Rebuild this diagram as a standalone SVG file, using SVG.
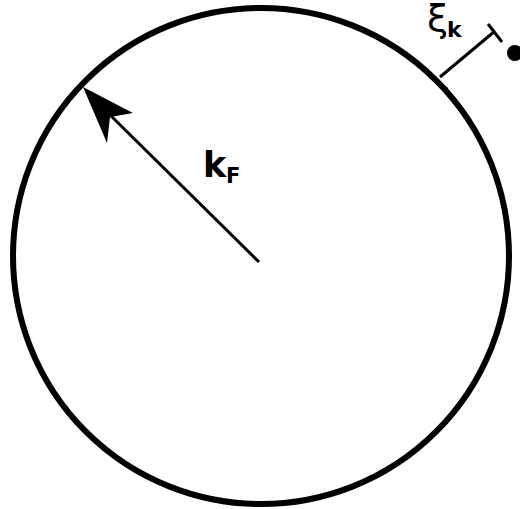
<svg xmlns="http://www.w3.org/2000/svg" width="520" height="509" viewBox="0 0 520 509">
<style>
.ln{stroke:#000;fill:none;stroke-linecap:butt}
.t{font-family:"DejaVu Sans",sans-serif;fill:#000}
</style>
<rect width="520" height="509" fill="#fff"/>
<g id="fermi-sphere">
<circle cx="261" cy="256" r="248" class="ln" stroke-width="6"/>
</g>
<g id="dot"><circle cx="515" cy="53" r="8" fill="#000"/></g>
<g id="connectors">
<line x1="259" y1="262" x2="105" y2="110" class="ln" stroke-width="3"/>
<polygon points="83,87 133,113 110,117 107,143" fill="#000"/>
<line x1="440" y1="77" x2="495" y2="31" class="ln" stroke-width="3"/>
<line x1="488" y1="24" x2="502" y2="42" class="ln" stroke-width="3"/>
<line x1="430" y1="77" x2="447" y2="89" class="ln" stroke-width="3"/>
</g>
<g id="label-kF">
<text x="203" y="177" class="t" font-size="35" font-weight="bold">k</text>
<text x="226" y="183" class="t" font-size="21" font-weight="bold">F</text>
</g>
<g id="label-xik">
<text x="427" y="31" class="t" font-size="38">ξ</text>
<text x="447" y="37" class="t" font-size="22" font-weight="bold">k</text>
</g>
</svg>
